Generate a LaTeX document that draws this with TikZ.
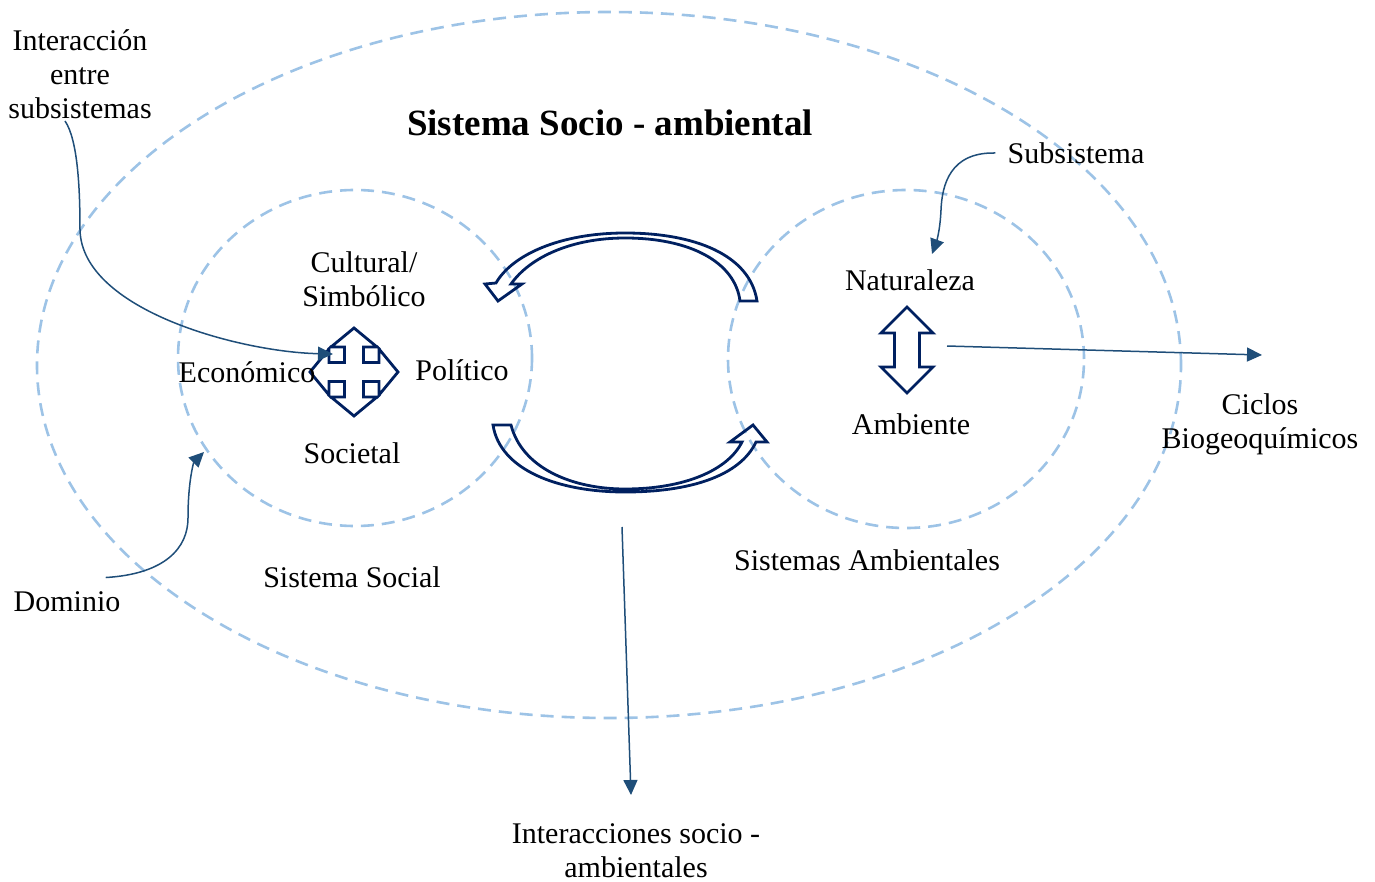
\documentclass[tikz,border=0pt]{standalone}
\usepackage{fontspec}
\setmainfont{Liberation Serif}
\usetikzlibrary{arrows.meta}
\definecolor{dashblue}{RGB}{157,195,230}
\definecolor{navy}{RGB}{0,32,96}
\definecolor{linkblue}{RGB}{31,78,121}

\begin{document}
\begin{tikzpicture}[x=0.5pt,y=-0.5pt,
  every node/.style={font=\fontsize{15}{17}\selectfont,align=center,inner sep=1pt},
  boundary/.style={draw=dashblue,line width=1.3pt,dash pattern=on 6.5pt off 4pt},
  outline/.style={draw=navy,line width=1.4pt,line join=miter},
  link/.style={draw=linkblue,line width=0.75pt,-{Triangle[length=7.5pt,width=7pt]}}]
  \useasboundingbox (0,0) rectangle (1375,882);

  % systems
  \draw[boundary] (609,365) ellipse [x radius=286pt, y radius=176.5pt];
  \draw[boundary] (355,358) ellipse [x radius=88.5pt, y radius=84pt];
  \draw[boundary] (906,359) ellipse [x radius=89pt, y radius=84.5pt];

  \node[font=\fontsize{18.5}{20}\selectfont\bfseries] (title) at (610,123) {Sistema Socio - ambiental};

  % social subsystems
  \begin{scope}[shift={(354,372)}]
    \draw[outline] (0,-44) -- (23,-25) -- (9.5,-25) -- (9.5,-9.5) -- (25,-9.5) -- (25,-23)
      -- (44,0) -- (25,23) -- (25,9.5) -- (9.5,9.5) -- (9.5,25) -- (23,25)
      -- (0,44) -- (-23,25) -- (-9.5,25) -- (-9.5,9.5) -- (-25,9.5) -- (-25,23)
      -- (-44,0) -- (-25,-23) -- (-25,-9.5) -- (-9.5,-9.5) -- (-9.5,-25) -- (-23,-25) -- cycle;
  \end{scope}
  \node (cultural) at (364,279) {Cultural/\\Simbólico};
  \node (economico) at (247,372) {Económico};
  \node (politico) at (462,370) {Político};
  \node (societal) at (352,453) {Societal};
  \node (social) at (352,577) {Sistema Social};

  % environmental subsystems
  \begin{scope}[shift={(907,350)}]
    \draw[outline] (0,-43) -- (26,-17) -- (12.5,-17) -- (12.5,17) -- (26,17) -- (0,43)
      -- (-26,17) -- (-12.5,17) -- (-12.5,-17) -- (-26,-17) -- cycle;
  \end{scope}
  \node (naturaleza) at (910,280) {Naturaleza};
  \node (ambiente) at (911,424) {Ambiente};
  \node (ambientales) at (867,560) {Sistemas Ambientales};

  % exchange between both systems
  \draw[outline] (757,301) .. controls (750,255) and (695,233) .. (625,233)
    .. controls (560,233) and (512,255) .. (496,283) -- (485,284) -- (498,301) -- (522,284) -- (511,284)
    .. controls (530,257) and (572,238) .. (625,238)
    .. controls (690,238) and (735,262) .. (740,301) -- cycle;
  \draw[outline] (493,425) -- (511,425) .. controls (522,468) and (572,489) .. (625,489)
    .. controls (685,489) and (728,470) .. (742,442) -- (730,442) -- (753,425) -- (767,442) -- (756,442)
    .. controls (740,476) and (690,492) .. (625,492)
    .. controls (558,492) and (500,470) .. (493,425) -- cycle;

  % labels outside
  \node (intsub) at (80,74) {Interacción\\entre\\subsistemas};
  \node (subsis) at (1076,153) {Subsistema};
  \node (dominio) at (67,602) {Dominio};
  \node (ciclos) at (1260,424) {Ciclos\\Biogeoquímicos};
  \node (interac) at (636,851) {Interacciones socio -\\ambientales};

  \coordinate (quadin) at (333,354);
  \coordinate (natin) at (932,254);
  \coordinate (socin) at (204,452);
  \coordinate (dblout) at (947,346);
  \coordinate (cicin) at (1262,355);
  \coordinate (flowout) at (622,527);
  \coordinate (interin) at (631,795);

  \draw[link] ([xshift=-7.5pt]intsub.south) .. controls (78,140) and (80,190) .. (80,230)
    .. controls (82,310) and (240,352) .. (quadin);
  \draw[link] ([xshift=-5pt]subsis.west) .. controls (950,152) and (942,185) .. (941,210)
    .. controls (940,232) and (936,243) .. (natin);
  \draw[link] ([xshift=-8.5pt,yshift=6pt]dominio.north east) .. controls (165,574) and (188,548) .. (188,518)
    .. controls (188,480) and (194,462) .. (socin);
  \draw[link] (dblout) -- (cicin);
  \draw[link] (flowout) -- (interin);
\end{tikzpicture}
\end{document}
